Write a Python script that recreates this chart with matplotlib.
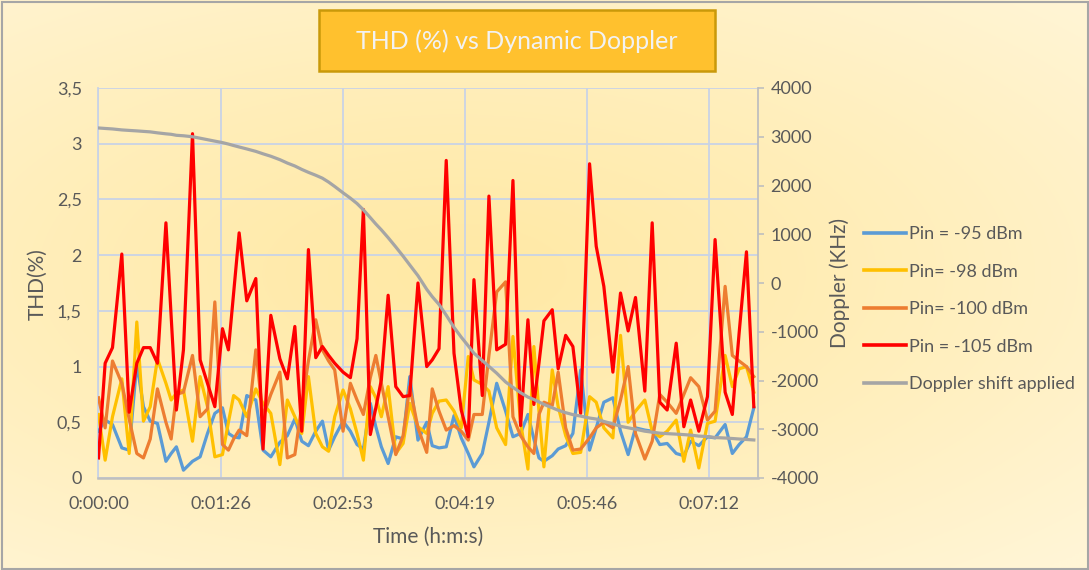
import numpy as np
import matplotlib
matplotlib.use("Agg")
import matplotlib.pyplot as plt
from matplotlib.ticker import FixedLocator, FuncFormatter
from matplotlib.patches import Rectangle
from matplotlib.lines import Line2D

plt.rcParams['font.family'] = ['Lato', 'DejaVu Sans']

# ---------------- data ----------------
time_s = [0, 4.7, 9.9, 16.5, 21.7, 27.1, 31.8, 36.6, 41.7, 47.7,
          51.4, 55.1, 60.1, 66.5, 71.9, 77.1, 82.3, 87.7, 91.9, 95.6,
          99.5, 104.9, 111.3, 116.4, 121.9, 128.3, 133.6, 138.9, 143.8, 148.5,
          153.7, 158.4, 162.8, 167.1, 173.0, 178.2, 182.9, 187.4, 192.3, 196.2,
          200.1, 204.9, 210.3, 215.5, 220.2, 226.0, 232.2, 236.1, 240.9, 246.0,
          251.5, 256.6, 261.6, 265.6, 271.5, 276.2, 281.7, 288.0, 293.2, 298.6,
          303.8, 308.0, 311.6, 315.1, 321.0, 325.2, 330.5, 335.6, 341.1, 347.4,
          352.1, 357.5, 363.9, 369.3, 374.7, 379.9, 386.5, 391.7, 397.1, 402.3,
          408.7, 414.1, 418.9, 424.7, 430.8, 436.2, 443.3, 448.4, 453.2, 458.4,
          463.6]

thd_95 = [0.42, 0.52, 0.48, 0.27, 0.25, 1.03, 0.64, 0.51, 0.49, 0.15,
          0.22, 0.28, 0.07, 0.15, 0.19, 0.40, 0.58, 0.63, 0.40, 0.37,
          0.36, 0.74, 0.70, 0.25, 0.19, 0.32, 0.38, 0.53, 0.33, 0.29,
          0.42, 0.51, 0.25, 0.37, 0.51, 0.42, 0.30, 0.26, 0.67, 0.46,
          0.28, 0.13, 0.37, 0.35, 0.91, 0.34, 0.50, 0.29, 0.27, 0.28,
          0.56, 0.36, 0.22, 0.10, 0.22, 0.50, 0.85, 0.60, 0.37, 0.40,
          0.57, 0.35, 0.18, 0.15, 0.20, 0.26, 0.29, 0.40, 0.97, 0.25,
          0.45, 0.68, 0.72, 0.42, 0.21, 0.45, 0.43, 0.42, 0.30, 0.31,
          0.22, 0.20, 0.33, 0.29, 0.37, 0.36, 0.48, 0.22, 0.30, 0.37,
          0.63]

thd_98 = [0.57, 0.16, 0.55, 0.89, 0.22, 1.40, 0.51, 0.64, 1.07, 0.85,
          0.70, 0.76, 0.79, 0.33, 0.91, 0.64, 0.19, 0.21, 0.50, 0.74,
          0.70, 0.55, 0.80, 0.67, 0.58, 0.12, 0.70, 0.55, 0.40, 0.91,
          0.40, 0.28, 0.24, 0.55, 0.79, 0.62, 0.40, 0.16, 0.82, 0.72,
          0.55, 0.82, 0.22, 0.31, 0.67, 0.46, 0.40, 0.58, 0.69, 0.70,
          0.60, 0.45, 1.09, 0.88, 0.84, 0.78, 0.45, 0.30, 1.27, 0.50,
          0.08, 1.18, 0.60, 0.10, 0.97, 0.64, 0.38, 0.22, 0.23, 0.73,
          0.68, 0.45, 0.36, 1.28, 0.50, 0.60, 0.70, 0.42, 0.37, 0.42,
          0.52, 0.15, 0.43, 0.09, 0.49, 0.51, 1.10, 0.82, 0.98, 1.00,
          0.77]

thd_100 = [0.72, 0.45, 1.05, 0.85, 0.53, 0.22, 0.18, 0.35, 0.80, 0.50,
           0.35, 0.75, 0.77, 1.10, 0.55, 0.62, 1.58, 0.30, 0.25, 0.35,
           0.43, 0.38, 1.15, 0.55, 0.75, 0.95, 0.18, 0.21, 0.65, 1.05,
           1.42, 1.15, 1.05, 0.97, 0.42, 0.85, 0.70, 0.57, 0.90, 1.10,
           0.85, 0.55, 0.21, 0.38, 0.82, 0.45, 0.23, 0.80, 0.60, 0.43,
           0.47, 0.42, 0.34, 0.57, 0.57, 1.10, 1.67, 1.76, 0.55, 0.38,
           0.28, 0.22, 0.57, 0.68, 0.65, 0.95, 0.45, 0.25, 0.26, 0.36,
           0.45, 0.50, 0.45, 0.70, 1.00, 0.40, 0.17, 0.33, 0.75, 0.68,
           0.58, 0.75, 0.90, 0.82, 0.52, 0.60, 1.72, 1.10, 1.05, 1.00,
           0.91]

thd_105 = [0.18, 1.03, 1.17, 2.01, 0.59, 1.03, 1.17, 1.17, 1.03, 2.29,
           1.45, 0.61, 1.15, 3.09, 1.06, 0.85, 0.64, 1.34, 1.15, 1.66,
           2.20, 1.59, 1.79, 0.26, 1.46, 1.07, 0.89, 1.36, 0.42, 2.05,
           1.08, 1.18, 1.10, 1.03, 0.95, 0.90, 1.25, 2.41, 0.39, 0.63,
           0.88, 1.64, 0.82, 0.73, 0.74, 1.75, 1.00, 1.06, 1.16, 2.85,
           1.12, 0.61, 0.37, 1.78, 0.74, 2.53, 1.15, 1.20, 2.67, 0.47,
           1.42, 0.66, 1.03, 1.41, 1.51, 0.98, 1.28, 1.18, 0.58, 2.82,
           2.08, 1.72, 0.95, 1.66, 1.32, 1.62, 0.78, 2.29, 0.68, 0.61,
           1.21, 0.46, 0.70, 0.42, 0.73, 2.14, 0.77, 0.57, 1.30, 2.03,
           0.64]

doppler_khz = [3180, 3170, 3160, 3140, 3130, 3120, 3110, 3100, 3080, 3060,
               3050, 3030, 3020, 3000, 2970, 2940, 2910, 2880, 2850, 2820,
               2790, 2750, 2700, 2650, 2600, 2530, 2460, 2400, 2330, 2270,
               2210, 2150, 2070, 1980, 1850, 1740, 1630, 1500, 1340, 1210,
               1090, 930, 740, 550, 370, 150, -130, -280, -440, -660,
               -910, -1110, -1290, -1440, -1590, -1710, -1850, -2030, -2140, -2250,
               -2340, -2390, -2440, -2490, -2560, -2610, -2660, -2700, -2730, -2770,
               -2790, -2840, -2890, -2940, -2970, -3000, -3040, -3060, -3080, -3090,
               -3100, -3110, -3120, -3140, -3150, -3170, -3180, -3190, -3200, -3210,
               -3220]

series_labels = ["Pin = -95 dBm", "Pin= -98 dBm", "Pin= -100 dBm",
                 "Pin = -105 dBm", "Doppler shift applied"]
series_colors = ["#5B9BD5", "#FFC000", "#ED7D31", "#FF0000", "#A5A5A5"]

title_text = "THD (%) vs Dynamic Doppler"
x_tick_seconds = [0, 86.4, 172.8, 259.2, 345.6, 432.0]
x_max_seconds = 466.56
left_ticks = [0, 0.5, 1, 1.5, 2, 2.5, 3, 3.5]
right_ticks = [-4000, -3000, -2000, -1000, 0, 1000, 2000, 3000, 4000]

# ---------------- figure ----------------
W, H = 1089, 570
fig = plt.figure(figsize=(W / 100, H / 100), dpi=100)

# radial gradient background
bg = fig.add_axes([0, 0, 1, 1], zorder=-10)
yy, xx = np.mgrid[0:1:300j, 0:1:600j]
r = np.sqrt(((xx - 0.42) / 0.8) ** 2 + ((yy - 0.52) / 0.7) ** 2)
r = np.clip(r, 0, 1) ** 1.2
c_center = np.array([255, 233, 165]) / 255.0
c_edge = np.array([255, 245, 214]) / 255.0
img = c_center[None, None, :] * (1 - r[..., None]) + c_edge[None, None, :] * r[..., None]
bg.imshow(img, extent=[0, 1, 0, 1], aspect='auto', origin='lower')
bg.set_xlim(0, 1)
bg.set_ylim(0, 1)
bg.axis('off')
bg.add_patch(Rectangle((1.5 / W, 1.5 / H), 1 - 3.0 / W, 1 - 3.0 / H, fill=False,
                       ec='#A6A6A6', lw=1.5, transform=bg.transAxes))

# title box
bx0, bx1, by0, by1 = 319, 715, 9.5, 70.5
fig.patches.append(Rectangle((bx0 / W, 1 - by1 / H), (bx1 - bx0) / W, (by1 - by0) / H,
                             transform=fig.transFigure, fc='#FFC12E', ec='#C9990A',
                             lw=1.8, zorder=5))
fig.text((bx0 + bx1) / 2 / W, 1 - 41 / H, title_text, ha='center', va='center',
         color='#F2F2F2', fontsize=18, fontweight='normal', zorder=6)

# main axes
L, R, T, B = 98.5, 758, 88, 478
ax = fig.add_axes([L / W, 1 - B / H, (R - L) / W, (B - T) / H])
ax.patch.set_alpha(0)
grid_c = '#C9D3E6'
label_c = '#595959'

for vals, col in zip([thd_95, thd_98, thd_100, thd_105], series_colors[:4]):
    ax.plot(time_s, vals, color=col, lw=2.3, solid_joinstyle='round', zorder=3)

ax.set_xlim(0, x_max_seconds)
ax.set_ylim(0, 3.5)
ax.xaxis.set_major_locator(FixedLocator(x_tick_seconds))


def fmt_time(v, pos=None):
    s = int(round(v))
    return f"{s // 3600}:{(s % 3600) // 60:02d}:{s % 60:02d}"


ax.xaxis.set_major_formatter(FuncFormatter(fmt_time))
ax.yaxis.set_major_locator(FixedLocator(left_ticks))
ax.yaxis.set_major_formatter(FuncFormatter(lambda v, p: ('%g' % v).replace('.', ',')))
ax.grid(True, color=grid_c, lw=1.3, zorder=0)
ax.set_axisbelow(True)
ax.tick_params(axis='both', length=0, labelcolor=label_c, labelsize=13)
ax.tick_params(axis='y', pad=12)
ax.tick_params(axis='x', pad=13)
for side in ['top', 'right']:
    ax.spines[side].set_visible(False)
ax.spines['left'].set_color(grid_c)
ax.spines['left'].set_linewidth(1.3)
ax.spines['bottom'].set_color('#BFBFBF')
ax.spines['bottom'].set_linewidth(1.8)

# secondary axis (Doppler)
ax2 = ax.twinx()
ax2.plot(time_s, doppler_khz, color=series_colors[4], lw=2.3, zorder=4)
ax2.set_ylim(-4000, 4000)
ax2.yaxis.set_major_locator(FixedLocator(right_ticks))
ax2.yaxis.set_major_formatter(FuncFormatter(lambda v, p: '%d' % v))
ax2.tick_params(axis='y', length=4, width=1.2, color='#BFBFBF', labelcolor=label_c,
                labelsize=13, pad=5, direction='out')
for side in ['top', 'left', 'bottom']:
    ax2.spines[side].set_visible(False)
ax2.spines['right'].set_color('#BFBFBF')
ax2.spines['right'].set_linewidth(1.3)

# axis titles
fig.text(38 / W, 1 - 284 / H, "THD(%)", rotation=90, ha='center', va='center',
         color=label_c, fontsize=15)
fig.text(840 / W, 1 - 283 / H, "Doppler (KHz)", rotation=90, ha='center', va='center',
         color=label_c, fontsize=15)
fig.text(428 / W, 1 - 537 / H, "Time (h:m:s)", ha='center', va='center',
         color=label_c, fontsize=15)

# legend
handles = [Line2D([0], [0], color=c, lw=2.6) for c in series_colors]
leg = fig.legend(handles, series_labels, loc='upper left',
                 bbox_to_anchor=(857 / W, 1 - 219 / H), frameon=False,
                 fontsize=13, labelcolor=label_c, handlelength=2.3,
                 handletextpad=0.2, labelspacing=1.19, borderaxespad=0)

fig.savefig("out.png", dpi=100)
